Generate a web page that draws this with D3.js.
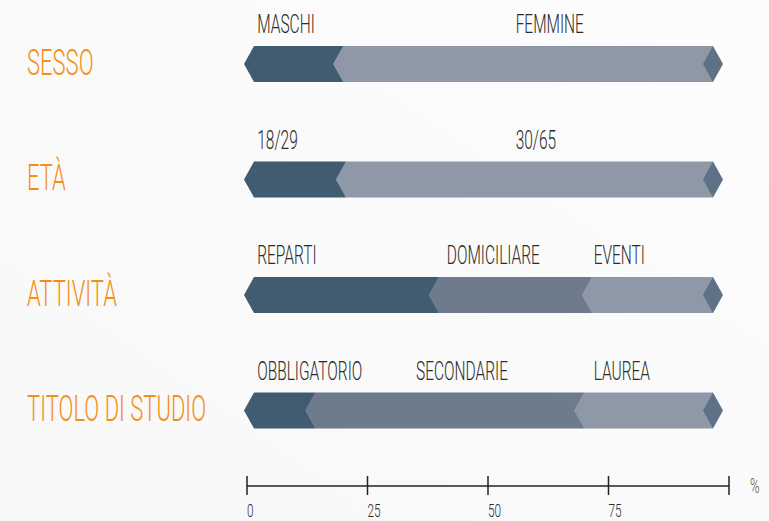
<!DOCTYPE html>
<html>
<head>
<meta charset="utf-8">
<script src="https://cdn.jsdelivr.net/npm/d3@7"></script>
<style>
  html, body { margin: 0; padding: 0; background: #fafafa; }
  svg { display: block; }
  text { font-family: Roboto, "Liberation Sans", sans-serif; }
</style>
</head>
<body>
<svg id="chart" width="769" height="521"></svg>
<script>
// ---- data ----
const categories = ["SESSO", "ETÀ", "ATTIVITÀ", "TITOLO DI STUDIO"];
const segmentNames = [
  ["MASCHI", "FEMMINE"],
  ["18/29", "30/65"],
  ["REPARTI", "DOMICILIARE", "EVENTI"],
  ["OBBLIGATORIO", "SECONDARIE", "LAUREA"]
];
const segmentValues = [
  [19.4, 80.6],
  [20, 80],
  [40.2, 33.4, 26.4],
  [13.3, 58.6, 28.1]
];
// where each segment label starts, in % along the bar
const labelAt = [
  [0.7, 57],
  [0.7, 57],
  [0.7, 42, 74],
  [0.7, 35.3, 74]
];
const tickValues = [0, 25, 50, 75, 100];
const tickLabels = ["0", "25", "50", "75", ""];
const unitLabel = "%";

// ---- style ----
const palette2 = ["#415b71", "#8e98a6"];
const palette3 = ["#415b71", "#6e7b8c", "#8e98a6"];
const capColor = "#5f7186";
const orange = "#f39017";
const textDark = "#2b2b2b";
const condense = 0.62;
const condenseCat = 0.595;

const svg = d3.select("#chart");
const W = 769, H = 521;

// subtle background
const defs = svg.append("defs");
const grad = defs.append("linearGradient").attr("id", "bg")
  .attr("x1", "0").attr("y1", "1").attr("x2", "1").attr("y2", "0");
grad.append("stop").attr("offset", "0").attr("stop-color", "#f8f8f8");
grad.append("stop").attr("offset", "0.5").attr("stop-color", "#fafafa");
grad.append("stop").attr("offset", "1").attr("stop-color", "#fdfdfd");
svg.append("rect").attr("width", W).attr("height", H).attr("fill", "url(#bg)");

const barX = d3.scaleLinear().domain([0, 100]).range([254, 713]);
const axisX = d3.scaleLinear().domain([0, 100]).range([246.5, 728.5]);
const barH = 36, notch = 10;

function condensedText(sel, x, y, str, size, color, weight, sx) {
  return sel.append("text")
    .attr("transform", `translate(${x},${y}) scale(${sx || condense},1)`)
    .attr("font-size", size)
    .attr("font-weight", weight || 300)
    .attr("fill", color)
    .text(str);
}

categories.forEach((cat, r) => {
  const top = 46 + r * 115.5;
  const cy = top + barH / 2;
  const g = svg.append("g");
  const vals = segmentValues[r];
  const cols = vals.length === 2 ? palette2 : palette3;
  const cum = d3.cumsum(vals);
  const starts = [0, ...cum.slice(0, -1)];

  // category name
  condensedText(g, 27, cy + 10.5, cat, 37, orange, 300, condenseCat);

  // segments
  vals.forEach((v, i) => {
    const x0 = barX(starts[i]);
    const x1 = barX(Math.min(cum[i], 100));
    const pts = [[x0 - notch, cy], [x0, top], [x1, top], [x1, top + barH], [x0, top + barH]];
    g.append("path")
      .attr("d", d3.line()(pts) + "Z")
      .attr("fill", cols[i]);
    condensedText(g, barX(labelAt[r][i]), top - 13, segmentNames[r][i], 25, textDark, 300);
  });

  // end cap
  const xe = barX(100);
  g.append("path")
    .attr("d", d3.line()([[xe - notch, cy], [xe, top], [xe + notch, cy], [xe, top + barH]]) + "Z")
    .attr("fill", capColor);
});

// axis
const axisY = 485.5;
const axis = d3.axisBottom(axisX)
  .tickValues(tickValues)
  .tickFormat((d, i) => tickLabels[i])
  .tickSizeOuter(0)
  .tickSizeInner(10);
const ag = svg.append("g").attr("transform", `translate(0,${axisY})`).call(axis);
ag.select(".domain").attr("stroke", "#222").attr("stroke-width", 1.5);
ag.selectAll(".tick line").attr("y1", -9.5).attr("y2", 9.5).attr("stroke", "#222").attr("stroke-width", 1.5);
ag.selectAll(".tick text")
  .attr("y", null).attr("dy", null)
  .attr("text-anchor", "start")
  .attr("transform", `translate(0,31) scale(${condense},1)`)
  .attr("font-family", "Roboto, sans-serif")
  .attr("font-weight", 300)
  .attr("font-size", 19)
  .attr("fill", textDark);
condensedText(svg, 750, axisY + 7.5, unitLabel, 21, "#555", 300);
</script>
</body>
</html>
